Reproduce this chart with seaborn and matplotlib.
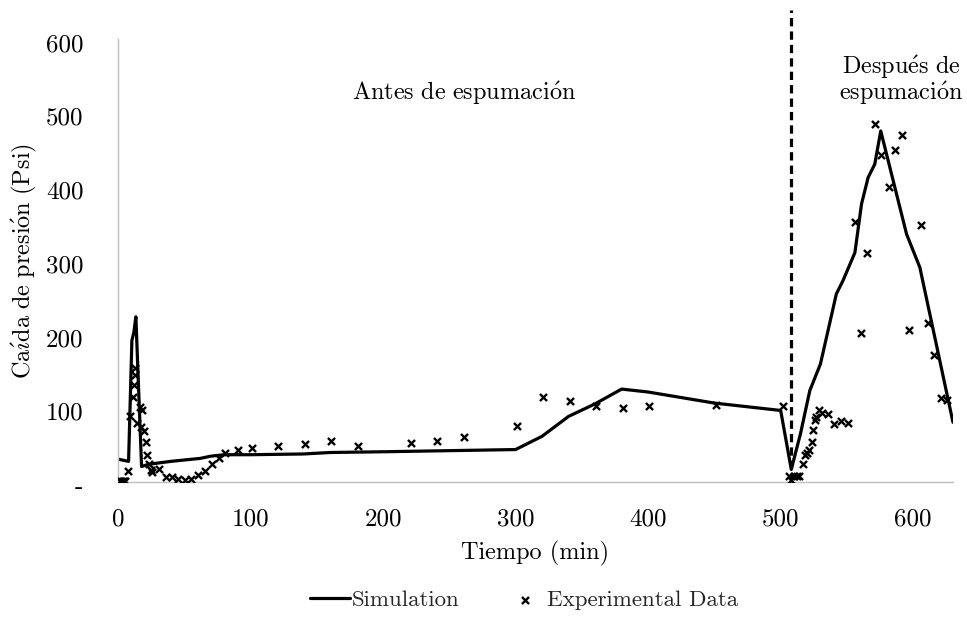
import matplotlib
matplotlib.use("Agg")
import matplotlib.pyplot as plt
import matplotlib.transforms as mtransforms
import numpy as np
import pandas as pd
import seaborn as sns
from matplotlib.ticker import FixedLocator

# ---- data ----
sim_time = [0, 8, 10.5, 12, 13.5, 17.8, 23, 40, 62, 70, 80, 100, 140, 160, 200,
            300, 320, 340, 360, 380, 400, 450, 500, 508, 515, 522, 530, 542,
            547, 556, 561, 566, 571, 575.5, 595, 605, 630]
sim_dp = [31, 28, 192, 203, 224, 21, 24, 28, 32, 35, 37, 37, 38, 40, 41,
          44, 62, 89, 106, 126, 122, 107, 97, 17, 66, 124, 160, 255,
          273, 311, 377, 413, 431, 476, 336, 291, 81]

exp_time = [1.5, 2.5, 3.5, 4.5, 5.5, 7.3, 9, 11, 11.8, 12.5, 13, 14.3, 16.3, 17,
            18.5, 19.4, 20.9, 21.9, 23.6, 24.6, 25.9, 31.2, 36, 40.5, 45.5,
            50.6, 55, 60.6, 65.7, 71.2, 76.2, 81, 90.8, 101, 121, 141, 161,
            181, 221, 241, 261, 301, 321, 341, 361, 381, 401, 451, 502,
            506, 508, 510, 512, 514, 516.7, 518.5, 519.7, 521, 523.5, 524.3,
            526, 527, 529, 531, 535.6, 540.6, 545.4, 550.7, 555.7, 560.5,
            565.3, 570.8, 575.8, 581.4, 586.4, 591.5, 596.5, 606, 610.8,
            615.8, 620.9, 625.4]
exp_dp = [1, 1, 1, 2, 1, 15, 89, 115, 132, 145, 154, 80, 102, 75,
          98, 69, 54, 36, 24, 16, 13, 18, 7, 7, 4,
          3, 4, 9, 15, 25, 33, 39, 43, 46, 49, 51, 56,
          49, 53, 56, 61, 76, 115, 110, 103, 100, 103, 104, 103,
          8, 3, 8, 8, 8, 25, 36, 40, 43, 54, 70,
          84, 88, 97, 93, 92, 79, 83, 80, 353, 202,
          310, 486, 443, 400, 450, 470, 206, 348, 215,
          172, 114, 111]

x_ticks = [0, 100, 200, 300, 400, 500, 600]
x_tick_labels = ["0", "100", "200", "300", "400", "500", "600"]
y_ticks = [0, 100, 200, 300, 400, 500, 600]
y_tick_labels = ["-", "100", "200", "300", "400", "500", "600"]
x_minor = list(range(0, 640, 20))
y_minor = list(range(0, 620, 20))
foam_time = 508

x_label = r"Tiempo (min)"
y_label = r"$\mathrm{Ca\acute{\imath}da\ de\ presi\acute{o}n\ (Psi)}$"
before_text = r"$\mathrm{Antes\ de\ espumaci\acute{o}n}$"
after_line1 = r"$\mathrm{Despu\acute{e}s\ de}$"
after_line2 = r"$\mathrm{espumaci\acute{o}n}$"

sim_df = pd.DataFrame({"t": sim_time, "dp": sim_dp})
exp_df = pd.DataFrame({"t": exp_time, "dp": exp_dp})

# ---- style ----
sns.set_theme(style="white")
plt.rcParams["font.family"] = ["cmr10", "DejaVu Serif"]
plt.rcParams["axes.formatter.use_mathtext"] = True
plt.rcParams["mathtext.fontset"] = "cm"
grey = "#BFBFBF"
fs_tick = 18
fs_lab = 17.5
fs_leg = 16.5

fig = plt.figure(figsize=(9.67, 6.17), dpi=100)
ax = fig.add_axes([0.122, 0.2188, 0.8635, 0.7650])

sns.lineplot(data=sim_df, x="t", y="dp", color="black", lw=2.3,
             estimator=None, sort=False, ax=ax, label="Simulation")
sns.scatterplot(data=exp_df, x="t", y="dp", marker="x", color="black",
                s=26, linewidth=1.7, ax=ax, label="Experimental Data", zorder=3)

ax.plot([foam_time, foam_time], [0, 640], color="black", lw=2.3,
        dashes=(2.6, 1.6), clip_on=False, zorder=4)

ax.set_xlim(0, 630)
ax.set_ylim(0, 640)
ax.set_xticks(x_ticks, x_tick_labels)
ax.set_yticks(y_ticks, y_tick_labels)
ax.xaxis.set_minor_locator(FixedLocator(x_minor))
ax.yaxis.set_minor_locator(FixedLocator(y_minor))

ax.tick_params(axis="both", which="major", direction="inout", length=12,
               width=1, color=grey, labelsize=fs_tick, labelcolor="black")
ax.tick_params(axis="y", which="major", pad=19)
ax.tick_params(axis="x", which="major", pad=13)
ax.tick_params(axis="both", which="minor", direction="in", length=4.3,
               width=1, color=grey)

# y tick labels sit slightly below their ticks in the reference
offset = mtransforms.ScaledTranslation(0, -3 / 100, fig.dpi_scale_trans)
for t in ax.yaxis.get_major_ticks():
    t.label1.set_transform(t.label1.get_transform() + offset)

for side in ["top", "right"]:
    ax.spines[side].set_visible(False)
for side in ["left", "bottom"]:
    ax.spines[side].set_color(grey)
    ax.spines[side].set_linewidth(1)
ax.spines["left"].set_bounds(0, 600)

ax.set_xlabel(x_label, fontsize=fs_lab, color="black")
ax.set_ylabel(y_label, fontsize=fs_lab, color="black")
ax.xaxis.set_label_coords(0.5, -0.125)
ax.yaxis.set_label_coords(-0.095, 300 / 640)

ax.text(261.5, 518, before_text, ha="center", va="baseline",
        fontsize=fs_lab, color="black")
ax.text(591, 553, after_line1, ha="center", va="baseline",
        fontsize=fs_lab, color="black")
ax.text(591, 518, after_line2, ha="center", va="baseline",
        fontsize=fs_lab, color="black")

handles, labels = ax.get_legend_handles_labels()
ax.legend(handles, labels, loc="center", bbox_to_anchor=(0.5419, 0.0276),
          bbox_transform=fig.transFigure, ncol=2, frameon=False,
          fontsize=fs_leg, handlelength=1.75, handletextpad=0.06,
          columnspacing=2.0)

fig.savefig("out.png", dpi=100, facecolor="white")
